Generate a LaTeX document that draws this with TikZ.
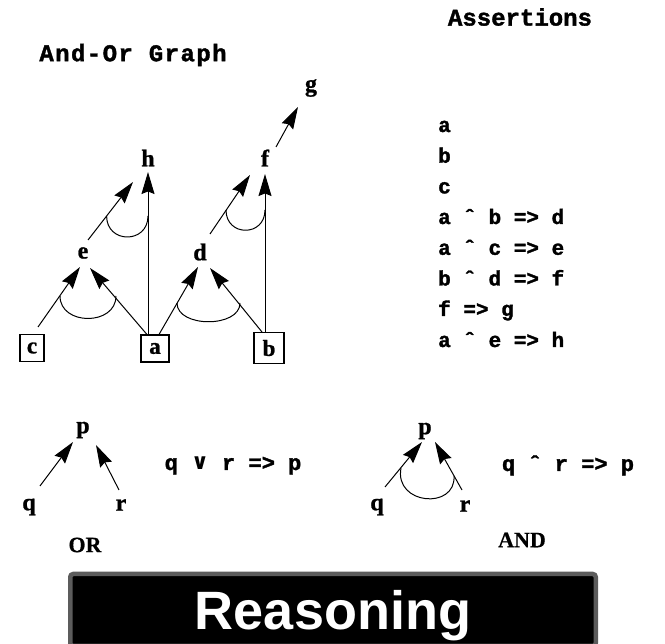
\documentclass[tikz,border=0pt]{standalone}
\usepackage{fontspec}
\setmainfont{Liberation Serif}
\newfontfamily\monof{Liberation Mono}
\newfontfamily\symf{DejaVu Sans}
\newfontfamily\bannerf{Liberation Sans}
\usetikzlibrary{arrows.meta,calc}
\definecolor{bordergray}{RGB}{92,92,92}
\begin{document}
\begin{tikzpicture}[x=1pt,y=-1pt,
  lt/.style={font=\fontsize{24}{24}\selectfont\bfseries\addfontfeatures{FakeBold=1}, inner sep=0.5pt},
  bx/.style={draw, line width=1.4pt, font=\fontsize{23}{23}\selectfont\bfseries\addfontfeatures{FakeBold=1}, inner sep=0pt},
  arr/.style={line width=1pt, -{Stealth[length=22pt,width=13pt,inset=2.5pt]}},
  andarc/.style={line width=1pt},
  asrt/.style={anchor=base west, font=\monof\bfseries\fontsize{21}{21}\selectfont\addfontfeatures{FakeBold=1.5}, inner sep=0pt},
  fm/.style={anchor=base, font=\monof\bfseries\fontsize{22}{22}\selectfont\addfontfeatures{FakeBold=1.5}, inner sep=0pt},
  lab/.style={font=\fontsize{22}{22}\selectfont\bfseries\addfontfeatures{FakeBold=0.5}, inner sep=0pt},
  head/.style={font=\monof\bfseries\fontsize{24}{24}\selectfont\addfontfeatures{FakeBold=1.5}, inner sep=0pt},
  banner/.style={fill=black, draw=bordergray, line width=4.5pt, rounded corners=3pt,
    text=white, font=\bannerf\bfseries\fontsize{54}{54}\selectfont, text depth=0pt}
]
\useasboundingbox (0,0) rectangle (665,644);
\fill[white] (0,0) rectangle (665,644);

% headings
\node[head] (t1) at (520,17) {Assertions};
\node[head] (t2) at (133,55) {\addfontfeatures{LetterSpace=6}And-Or Graph};

% graph nodes
\node[lt] (g) at (311,88) {g};
\node[lt] (h) at (148,158) {h};
\node[lt] (f) at (265,158) {f};
\node[lt] (e) at (83,253) {e};
\node[lt] (d) at (200,252) {d};
\node[bx, minimum width=24, minimum height=27] (c) at (32,348) {c};
\node[bx, minimum width=28, minimum height=27] (a) at (155,348.5) {a};
\node[bx, minimum width=30, minimum height=31] (b) at (269,348) {b};

% connectors
\draw[arr] ($(f)+(11,-11)$) -- ($(g)+(-13,19)$);
\draw[arr] ($(e)+(5,-13)$) -- ($(h)+(-15,24)$);
\draw[arr] (h |- a.north) -- ($(h)+(0,14)$);
\draw[arr] ($(d)+(10,-18)$) -- ($(f)+(-15,17)$);
\draw[arr] (f |- b.north) -- ($(f)+(0,16)$);
\draw[arr] ($(c)+(6,-21)$) -- ($(e)+(-3,14)$);
\draw[arr] ($(a)+(-8,-14)$) -- ($(e)+(7,15)$);
\draw[arr] ($(a)+(4,-14)$) -- ($(d)+(-2,15)$);
\draw[arr] ($(b)+(-7,-16)$) -- ($(d)+(10,16)$);

% AND arcs
\draw[andarc] (60,296) .. controls (60,326) and (116,326) .. (116,296);
\draw[andarc] (177,303) .. controls (177,328) and (240,328) .. (240,303);
\draw[andarc] (106.6,216) .. controls (106.6,244) and (148,244) .. (148,216);
\draw[andarc] (226,210) .. controls (226,237) and (265,237) .. (265,210);

% assertions
\node[asrt] (s1) at (438,132) {a};
\node[asrt] (s2) at (438,162.7) {b};
\node[asrt] (s3) at (438,193.4) {c};
\node[asrt] (s4) at (438,224) {a ˆ b => d};
\node[asrt] (s5) at (438,254.8) {a ˆ c => e};
\node[asrt] (s6) at (438,285.5) {b ˆ d => f};
\node[asrt] (s7) at (438,316) {f => g};
\node[asrt] (s8) at (438,347) {a ˆ e => h};

% OR example
\node[lt] (p1) at (83,430) {p};
\node[lt] (q1) at (29,507) {q};
\node[lt] (r1) at (121,505) {r};
\draw[arr] ($(q1)+(11,-21)$) -- ($(p1)+(-10,12)$);
\draw[arr] ($(r1)+(-2,-15)$) -- ($(p1)+(13,15)$);
\node[fm] (or1) at (233,470) {q {\symf\bfseries ∨} r => p};
\node[lab] (orl) at (85,545) {OR};

% AND example
\node[lt] (p2) at (425,431) {p};
\node[lt] (q2) at (377,507) {q};
\node[lt] (r2) at (465,506) {r};
\draw[arr] ($(q2)+(8,-20)$) -- ($(p2)+(-3,11)$);
\draw[arr] ($(r2)+(-3,-16)$) -- ($(p2)+(10,11)$);
\draw[andarc] (401,468) .. controls (394,505) and (456,510) .. (454,476);
\node[fm] (and1) at (568,471) {q ˆ r => p};
\node[lab] (andl) at (522,540) {AND};

% banner
\node[banner, minimum width=525.5, minimum height=72] (rs) at (333,610) {Reasoning};
\end{tikzpicture}
\end{document}
